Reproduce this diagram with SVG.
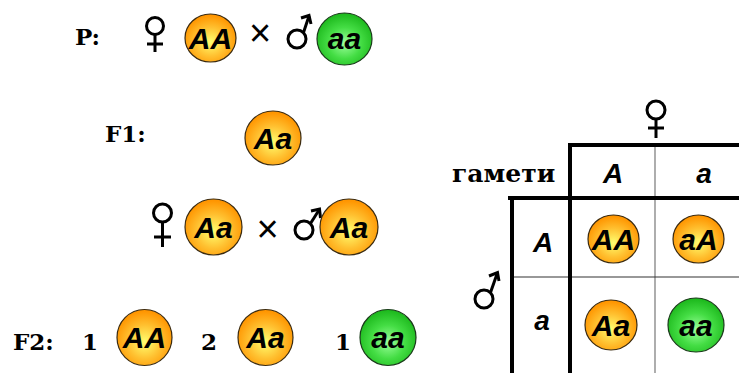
<svg xmlns="http://www.w3.org/2000/svg" width="739" height="373" viewBox="0 0 739 373">
<defs>
<radialGradient id="gO" cx="50%" cy="58%" r="55%">
<stop offset="0" stop-color="#ffff70"/>
<stop offset="0.55" stop-color="#ffc030"/>
<stop offset="1" stop-color="#ff9500"/>
</radialGradient>
<radialGradient id="gG" cx="50%" cy="58%" r="55%">
<stop offset="0" stop-color="#9dff9d"/>
<stop offset="0.55" stop-color="#44dd44"/>
<stop offset="1" stop-color="#1fbb1f"/>
</radialGradient>
</defs>
<style>
.o{fill:url(#gO);stroke:#3a2a10;stroke-width:1.2}
.g{fill:url(#gG);stroke:#1a3a1a;stroke-width:1.2}
.ct{font-family:"Liberation Sans",Arial,sans-serif;font-weight:bold;font-style:italic;font-size:30px;text-anchor:middle;fill:#000}
.tt{font-family:"Liberation Sans",Arial,sans-serif;font-weight:bold;font-style:italic;font-size:28px;text-anchor:middle;fill:#000}
.lb{font-family:"DejaVu Serif","Liberation Serif",serif;font-weight:bold;font-size:23px;fill:#000}
.x{font-family:"Liberation Sans",Arial,sans-serif;font-size:38px;text-anchor:middle;fill:#000}
.sym{fill:none;stroke:#000;stroke-width:3}
.thick{stroke:#000;stroke-width:4}
.thin{stroke:#777;stroke-width:1.2}
.thinb{stroke:#333;stroke-width:1.2}
</style>

<g id="labels">
<text class="lb" x="75" y="45">P:</text>
<text class="lb" x="105" y="142">F1:</text>
<text class="lb" x="13" y="350">F2:</text>
<text class="lb" x="82" y="350">1</text>
<text class="lb" x="201" y="350">2</text>
<text class="lb" x="335" y="350">1</text>
<text class="lb" x="452" y="182" style="font-size:25px">гамети</text>
<text class="x" x="260" y="46">×</text>
<text class="x" x="267.5" y="242">×</text>
</g>

<g id="symbols">
<g id="femaleP" class="sym">
<circle cx="155" cy="26" r="8.5"/>
<line x1="155" y1="34.5" x2="155" y2="52"/>
<line x1="147" y1="44" x2="163" y2="44"/>
</g>
<g id="maleP" class="sym">
<circle cx="297" cy="39" r="9"/>
<line x1="303.5" y1="32.5" x2="309" y2="16"/>
<polyline points="301,18 309,15.5 311,24"/>
</g>
<g id="femaleF1" class="sym">
<circle cx="162.5" cy="213" r="9"/>
<line x1="162.5" y1="222" x2="162.5" y2="247"/>
<line x1="154" y1="237" x2="171" y2="237"/>
</g>
<g id="maleF1" class="sym">
<circle cx="304" cy="230" r="9"/>
<line x1="310.5" y1="223.5" x2="319" y2="210"/>
<polyline points="311,211 319.5,209 320.5,218"/>
</g>
<g id="femaleT" class="sym">
<circle cx="656" cy="110" r="9"/>
<line x1="656" y1="119" x2="656" y2="138"/>
<line x1="648" y1="128" x2="664" y2="128"/>
</g>
<g id="maleT" class="sym">
<circle cx="484" cy="299" r="9"/>
<line x1="490.5" y1="292.5" x2="497" y2="274"/>
<polyline points="489,276 497.5,272.5 499,281"/>
</g>
</g>

<g id="table">
<line class="thin" x1="655" y1="145" x2="655" y2="373"/>
<line class="thinb" x1="512" y1="277" x2="739" y2="277"/>
<line class="thick" x1="568" y1="145" x2="739" y2="145"/>
<line class="thick" x1="570" y1="143" x2="570" y2="373"/>
<line class="thick" x1="508" y1="198" x2="739" y2="198"/>
<line class="thick" x1="512" y1="196" x2="512" y2="373"/>
<text class="tt" x="613" y="183">A</text>
<text class="tt" x="704" y="183">a</text>
<text class="tt" x="543" y="252">A</text>
<text class="tt" x="542" y="330">a</text>
</g>

<g id="nodeP1"><ellipse class="o" cx="210.5" cy="38" rx="25.5" ry="24"/><text class="ct" x="210.5" y="48.5">AA</text></g>
<g id="nodeP2"><ellipse class="g" cx="344.5" cy="39" rx="27.5" ry="26"/><text class="ct" x="344.5" y="48.5">aa</text></g>
<g id="nodeF1"><ellipse class="o" cx="273" cy="138" rx="28" ry="27"/><text class="ct" x="273" y="148.5">Aa</text></g>
<g id="nodeX1"><ellipse class="o" cx="213.5" cy="227" rx="28.5" ry="28"/><text class="ct" x="213.5" y="237.5">Aa</text></g>
<g id="nodeX2"><ellipse class="o" cx="349" cy="227" rx="29" ry="28"/><text class="ct" x="349" y="237.5">Aa</text></g>
<g id="nodeF2a"><ellipse class="o" cx="144.5" cy="337.5" rx="27.5" ry="28"/><text class="ct" x="144.5" y="348">AA</text></g>
<g id="nodeF2b"><ellipse class="o" cx="265.5" cy="337.5" rx="27.5" ry="28"/><text class="ct" x="265.5" y="348">Aa</text></g>
<g id="nodeF2c"><ellipse class="g" cx="388" cy="337.5" rx="28" ry="28"/><text class="ct" x="388" y="348">aa</text></g>
<g id="cellAA"><ellipse class="o" cx="613.5" cy="239" rx="25.5" ry="24"/><text class="ct" x="613.5" y="249.5">AA</text></g>
<g id="cellaA"><ellipse class="o" cx="698.5" cy="239" rx="25.5" ry="24"/><text class="ct" x="698.5" y="249.5">aA</text></g>
<g id="cellAa"><ellipse class="o" cx="611" cy="325" rx="26" ry="25"/><text class="ct" x="611" y="335.5">Aa</text></g>
<g id="cellaa"><ellipse class="g" cx="696" cy="325" rx="28" ry="27"/><text class="ct" x="696" y="335.5">aa</text></g>
</svg>
